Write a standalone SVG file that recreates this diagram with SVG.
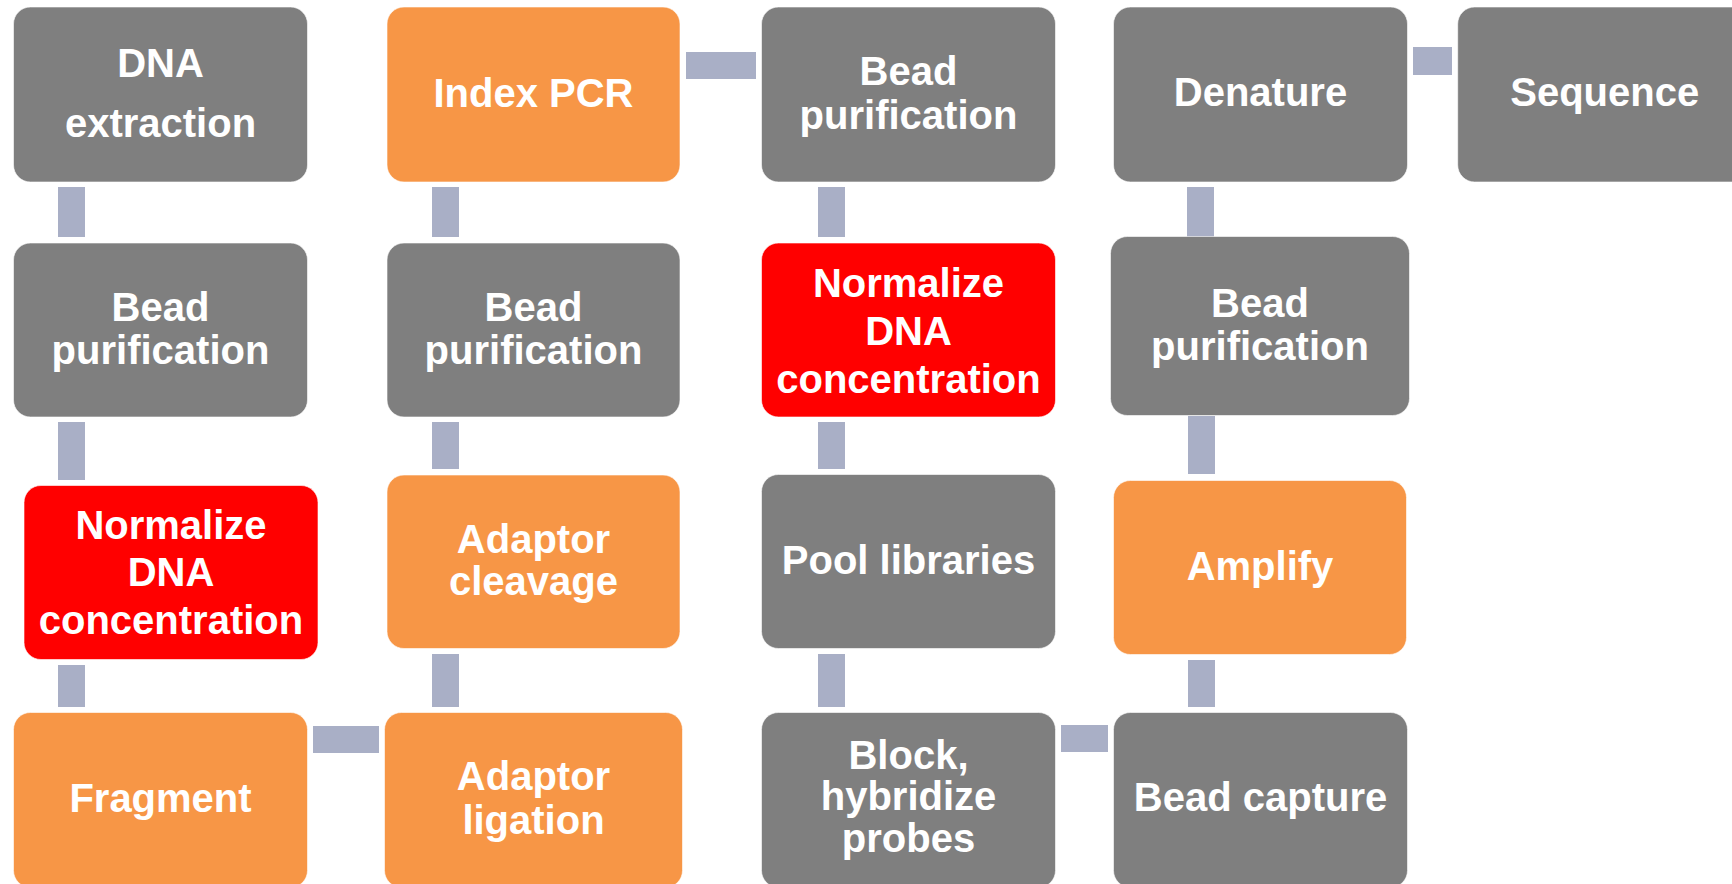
<svg xmlns="http://www.w3.org/2000/svg" width="1732" height="884" viewBox="0 0 1732 884">
  <style>
    .box { stroke: #ffffff; stroke-opacity: 0.6; stroke-width: 1; }
    .gray { fill: #7F7F7F; }
    .orange { fill: #F79646; }
    .red { fill: #FF0000; }
    .conn { fill: #A9AFC6; }
    .lbl { font-family: "Liberation Sans", Arial, sans-serif; font-weight: bold; font-size: 40px; fill: #FFFFFF; text-anchor: middle; }
  </style>
  <rect width="1732" height="884" fill="#FFFFFF"/>

  <g id="connectors">
    <rect class="conn" x="58" y="187" width="27" height="50"/>
    <rect class="conn" x="58" y="422" width="27" height="58"/>
    <rect class="conn" x="58" y="665" width="27" height="42"/>
    <rect class="conn" x="313" y="726" width="66" height="27"/>
    <rect class="conn" x="432" y="654" width="27" height="53"/>
    <rect class="conn" x="432" y="422" width="27" height="47"/>
    <rect class="conn" x="432" y="187" width="27" height="50"/>
    <rect class="conn" x="686" y="52" width="70" height="27"/>
    <rect class="conn" x="818" y="187" width="27" height="50"/>
    <rect class="conn" x="818" y="422" width="27" height="47"/>
    <rect class="conn" x="818" y="654" width="27" height="53"/>
    <rect class="conn" x="1061" y="725" width="47" height="27"/>
    <rect class="conn" x="1188" y="660" width="27" height="47"/>
    <rect class="conn" x="1188" y="416" width="27" height="58"/>
    <rect class="conn" x="1187" y="187" width="27" height="50"/>
    <rect class="conn" x="1413" y="47" width="39" height="28"/>
  </g>

  <g id="n1">
    <rect class="box gray" x="13.5" y="7" width="294" height="175" rx="17"/>
    <text class="lbl" x="160.5" y="77">DNA</text>
    <text class="lbl" x="160.5" y="137">extraction</text>
  </g>
  <g id="n2">
    <rect class="box gray" x="13.5" y="243" width="294" height="174" rx="17"/>
    <text class="lbl" x="160.5" y="321">Bead</text>
    <text class="lbl" x="160.5" y="363.5">purification</text>
  </g>
  <g id="n3">
    <rect class="box red" x="24" y="485.5" width="294" height="174" rx="17"/>
    <text class="lbl" x="171" y="538.5">Normalize</text>
    <text class="lbl" x="171" y="586">DNA</text>
    <text class="lbl" x="171" y="634">concentration</text>
  </g>
  <g id="n4">
    <rect class="box orange" x="13.5" y="712.5" width="294" height="175" rx="17"/>
    <text class="lbl" x="160.5" y="811.5">Fragment</text>
  </g>
  <g id="n5">
    <rect class="box orange" x="384.5" y="712.5" width="298" height="175" rx="17"/>
    <text class="lbl" x="533.5" y="790">Adaptor</text>
    <text class="lbl" x="533.5" y="833.5">ligation</text>
  </g>
  <g id="n6">
    <rect class="box orange" x="387" y="475" width="293" height="173.5" rx="17"/>
    <text class="lbl" x="533.5" y="552.5">Adaptor</text>
    <text class="lbl" x="533.5" y="595">cleavage</text>
  </g>
  <g id="n7">
    <rect class="box gray" x="387" y="243" width="293" height="174" rx="17"/>
    <text class="lbl" x="533.5" y="321">Bead</text>
    <text class="lbl" x="533.5" y="363.5">purification</text>
  </g>
  <g id="n8">
    <rect class="box orange" x="387" y="7" width="293" height="175" rx="17"/>
    <text class="lbl" x="533.5" y="106.5">Index PCR</text>
  </g>
  <g id="n9">
    <rect class="box gray" x="761.5" y="7" width="294" height="175" rx="17"/>
    <text class="lbl" x="908.5" y="85">Bead</text>
    <text class="lbl" x="908.5" y="128.5">purification</text>
  </g>
  <g id="n10">
    <rect class="box red" x="761.5" y="243" width="294" height="174" rx="17"/>
    <text class="lbl" x="908.5" y="296.5">Normalize</text>
    <text class="lbl" x="908.5" y="344.5">DNA</text>
    <text class="lbl" x="908.5" y="392.5">concentration</text>
  </g>
  <g id="n11">
    <rect class="box gray" x="761.5" y="474.5" width="294" height="174" rx="17"/>
    <text class="lbl" x="908.5" y="573.5">Pool libraries</text>
  </g>
  <g id="n12">
    <rect class="box gray" x="761.5" y="712.5" width="294" height="175" rx="17"/>
    <text class="lbl" x="908.5" y="768.5">Block,</text>
    <text class="lbl" x="908.5" y="810">hybridize</text>
    <text class="lbl" x="908.5" y="851.5">probes</text>
  </g>
  <g id="n13">
    <rect class="box gray" x="1113.5" y="712.5" width="294" height="175" rx="17"/>
    <text class="lbl" x="1260.5" y="811">Bead capture</text>
  </g>
  <g id="n14">
    <rect class="box orange" x="1113.5" y="480.5" width="293" height="174" rx="17"/>
    <text class="lbl" x="1260" y="579.5">Amplify</text>
  </g>
  <g id="n15">
    <rect class="box gray" x="1110.5" y="236.5" width="299" height="179" rx="17"/>
    <text class="lbl" x="1260" y="316.5">Bead</text>
    <text class="lbl" x="1260" y="360">purification</text>
  </g>
  <g id="n16">
    <rect class="box gray" x="1113.5" y="7" width="294" height="175" rx="17"/>
    <text class="lbl" x="1260.5" y="106">Denature</text>
  </g>
  <g id="n17">
    <rect class="box gray" x="1457.7" y="7" width="294" height="175" rx="17"/>
    <text class="lbl" x="1604.7" y="106">Sequence</text>
  </g>
</svg>
